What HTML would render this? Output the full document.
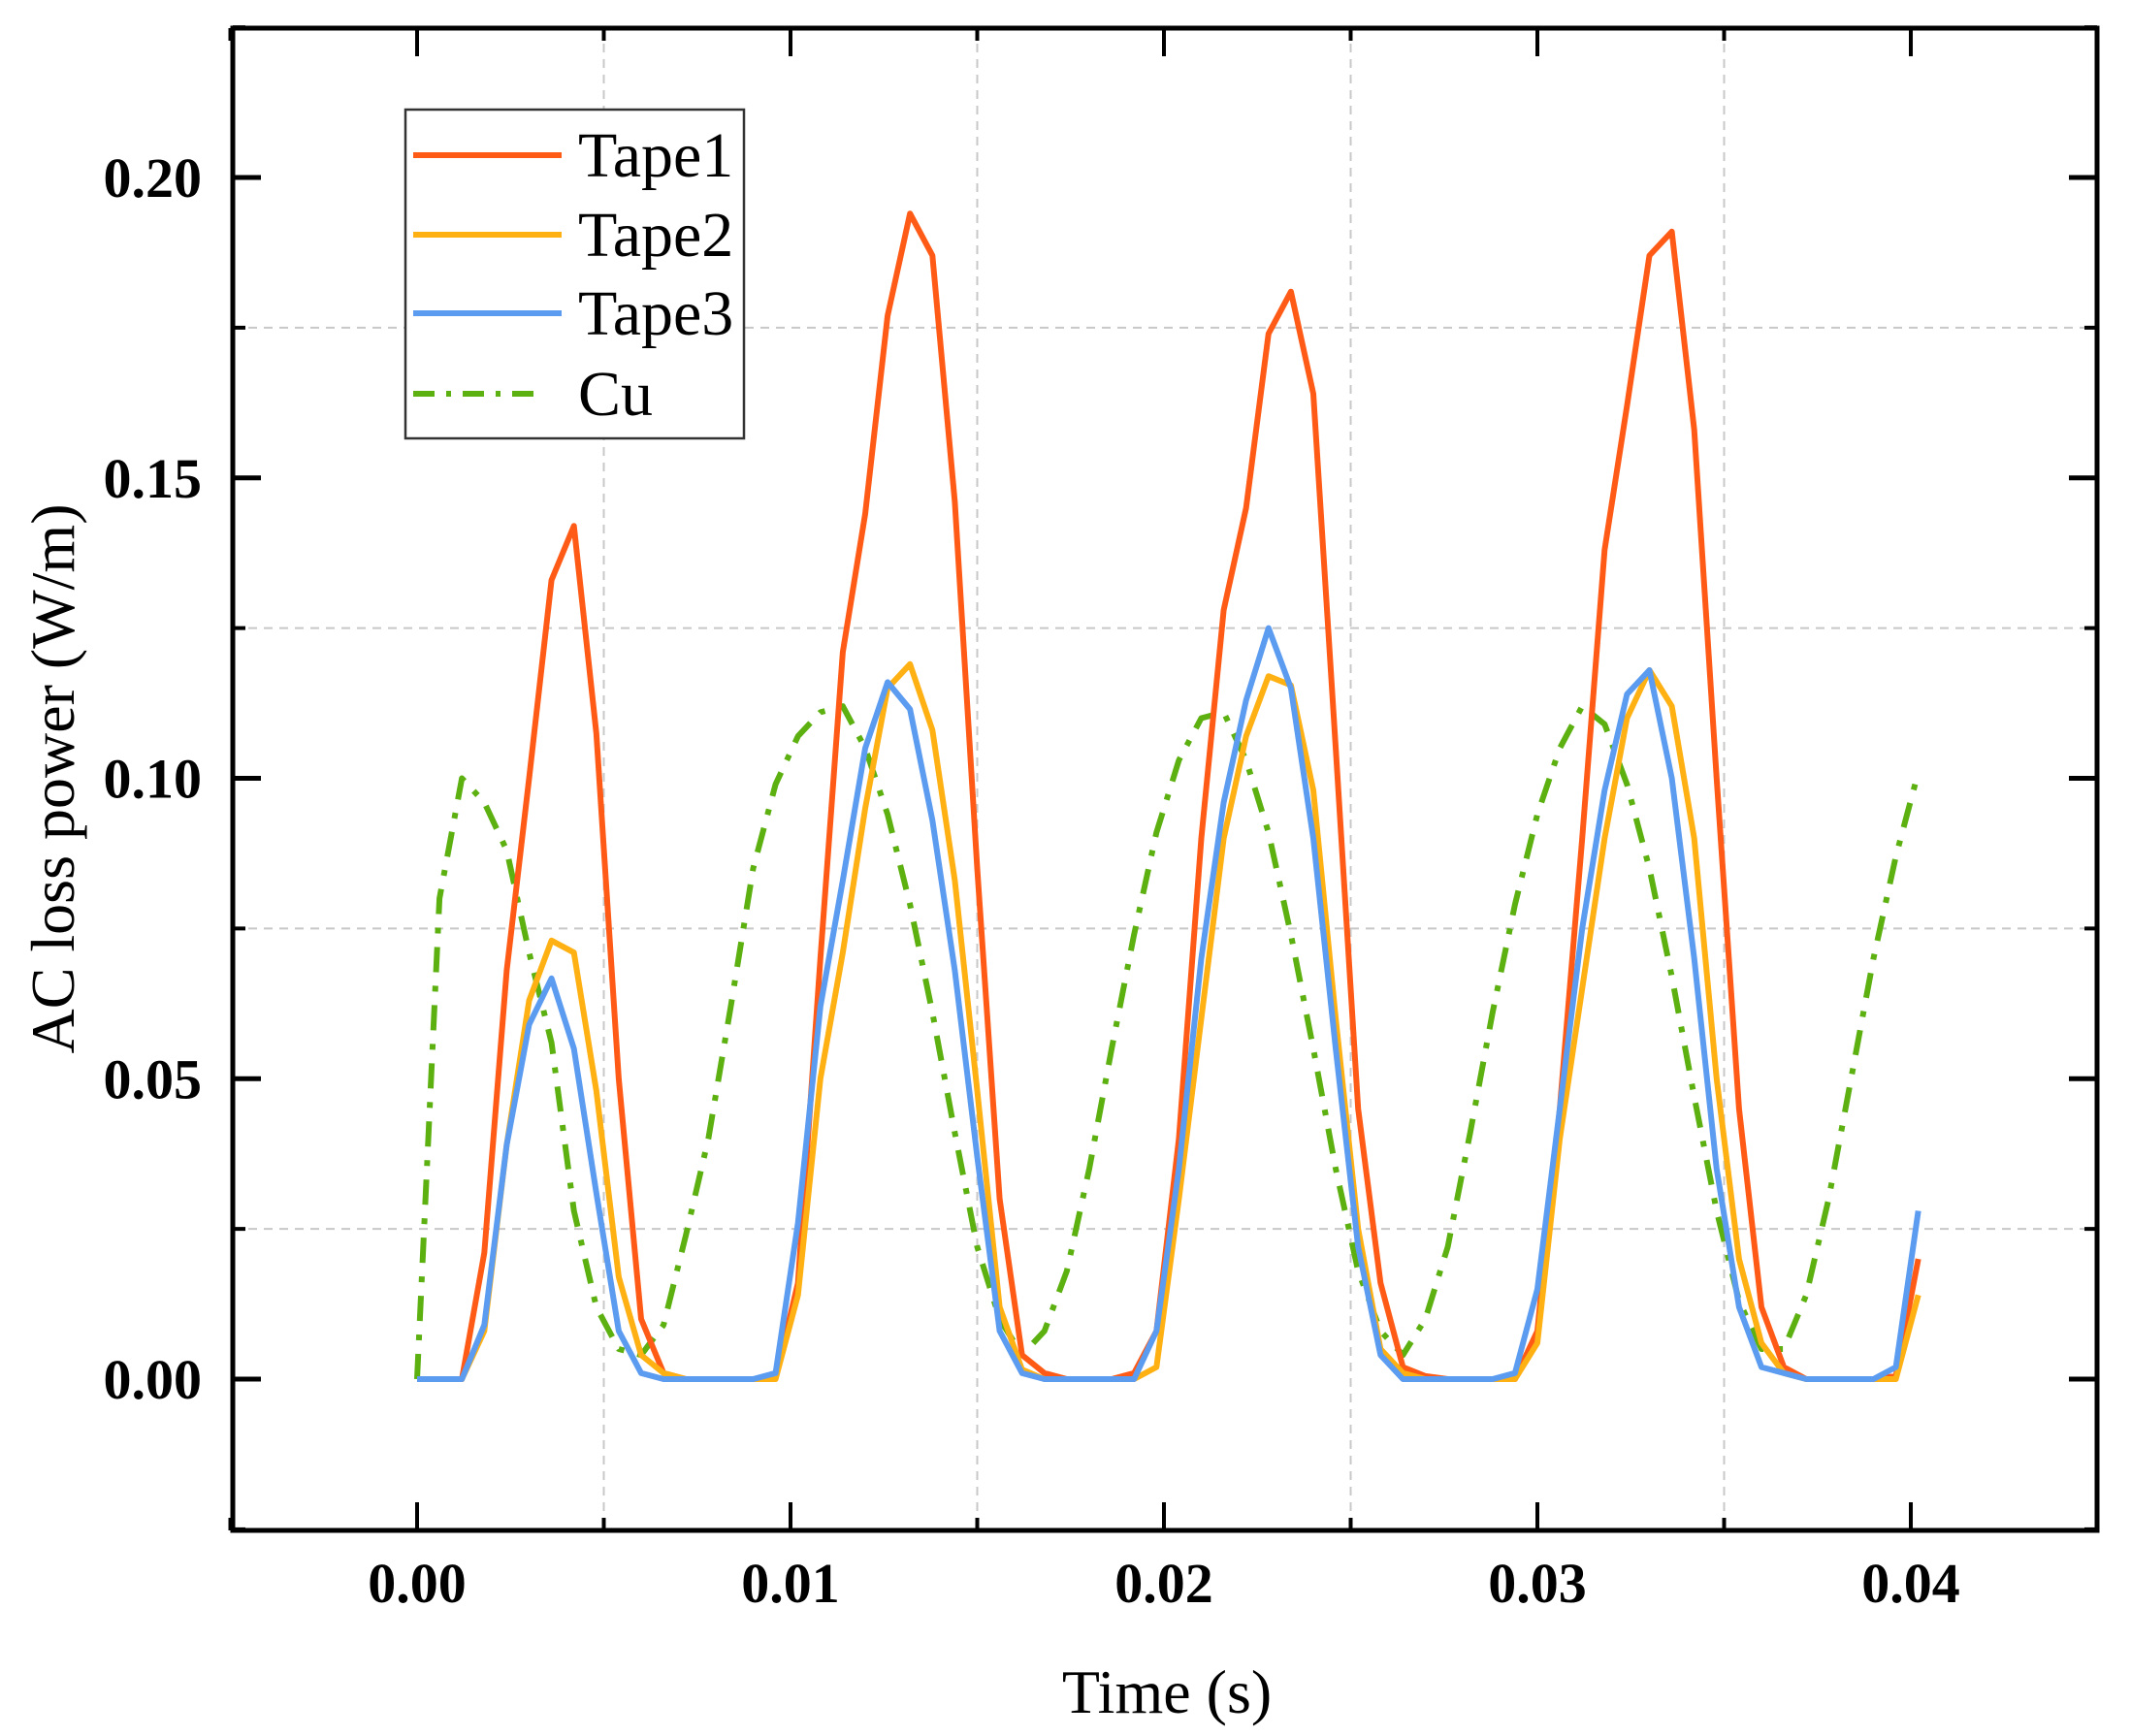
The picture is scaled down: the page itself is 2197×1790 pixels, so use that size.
<!DOCTYPE html>
<html><head><meta charset="utf-8">
<style>
html,body{margin:0;padding:0;background:#fff;}
svg{display:block;}
text{font-family:"Liberation Serif",serif;fill:#000;}
</style></head>
<body>
<svg id="chart" width="2197" height="1790" viewBox="0 0 2197 1790" xmlns="http://www.w3.org/2000/svg">
<g id="grid"></g>
<g id="series"></g>
<rect x="240" y="29" width="1922" height="1549" fill="none" stroke="#000" stroke-width="5"/>
<g id="ticks"></g>
<g id="labels"></g>
<text x="1203" y="1766" font-size="64" text-anchor="middle">Time (s)</text>
<text transform="translate(76,803) rotate(-90)" font-size="64" text-anchor="middle">AC loss power (W/m)</text>
<g>
<rect x="418" y="113" width="349" height="339" fill="#fff" stroke="#333" stroke-width="2.5"/>
<line x1="426" y1="160" x2="579" y2="160" stroke="#FF5B17" stroke-width="6"/>
<text x="596" y="182" font-size="66">Tape1</text>
<line x1="426" y1="242" x2="579" y2="242" stroke="#FFB012" stroke-width="6"/>
<text x="596" y="264" font-size="66">Tape2</text>
<line x1="426" y1="323" x2="579" y2="323" stroke="#5B9BF0" stroke-width="6"/>
<text x="596" y="345" font-size="66">Tape3</text>
<line x1="426" y1="406" x2="560" y2="406" stroke="#5CB010" stroke-width="6" stroke-dasharray="22,12,5,12"/>
<text x="596" y="428" font-size="66">Cu</text>
</g>
</svg>
<script>
const dt = 0.0006;
const xTicks = [0, 0.01, 0.02, 0.03, 0.04];
const xTickLabels = ["0.00","0.01","0.02","0.03","0.04"];
const yTicks = [0, 0.05, 0.10, 0.15, 0.20];
const yTickLabels = ["0.00","0.05","0.10","0.15","0.20"];
const xMinor = [-0.005, 0.005, 0.015, 0.025, 0.035, 0.045];
const yMinor = [-0.025, 0.025, 0.075, 0.125, 0.175, 0.225];
const tape1 = [0,0,0,0.021,0.068,0.100,0.133,0.142,0.1075,0.050,0.010,0.001,0,0,0,0,0.0003,0.016,0.070,0.121,0.144,0.177,0.194,0.187,0.146,0.085,0.030,0.004,0.001,0,0,0,0.001,0.008,0.040,0.090,0.128,0.145,0.174,0.181,0.164,0.105,0.045,0.016,0.002,0.0005,0,0,0,0,0.008,0.045,0.090,0.138,0.162,0.187,0.191,0.158,0.100,0.045,0.012,0.002,0,0,0,0,0.0005,0.020];
const tape2 = [0,0,0,0.008,0.039,0.063,0.073,0.071,0.048,0.017,0.004,0.001,0,0,0,0,0,0.014,0.050,0.071,0.095,0.115,0.119,0.108,0.083,0.048,0.012,0.0016,0,0,0,0,0,0.002,0.030,0.060,0.090,0.107,0.117,0.1155,0.098,0.060,0.025,0.005,0.001,0,0,0,0,0,0.006,0.040,0.065,0.090,0.110,0.118,0.112,0.090,0.050,0.020,0.006,0.001,0,0,0,0,0,0.014];
const tape3 = [0,0,0,0.009,0.039,0.059,0.0667,0.055,0.031,0.008,0.001,0,0,0,0,0,0.001,0.026,0.062,0.083,0.105,0.116,0.1115,0.093,0.068,0.037,0.008,0.001,0,0,0,0,0,0.008,0.035,0.070,0.096,0.113,0.125,0.115,0.090,0.055,0.022,0.004,0,0,0,0,0,0.001,0.015,0.045,0.075,0.098,0.114,0.118,0.100,0.070,0.035,0.012,0.002,0.001,0,0,0,0,0.002,0.028];
const cu = [0,0.080,0.100,0.096,0.088,0.071,0.056,0.028,0.012,0.005,0.004,0.009,0.024,0.040,0.062,0.085,0.099,0.107,0.111,0.112,0.105,0.094,0.079,0.061,0.041,0.022,0.010,0.004,0.008,0.018,0.035,0.055,0.074,0.091,0.103,0.110,0.111,0.103,0.091,0.074,0.055,0.035,0.018,0.008,0.004,0.010,0.022,0.041,0.061,0.079,0.094,0.105,0.112,0.109,0.099,0.085,0.067,0.047,0.028,0.013,0.005,0.005,0.014,0.030,0.050,0.070,0.087,0.101];

const NS = "http://www.w3.org/2000/svg";
function X(t){ return 430 + t * 38500; }
function Y(v){ return 1422 - v * 6195; }
const L = 240, R = 2162, T = 29, B = 1578;
function mk(tag, attrs, parent){
  const e = document.createElementNS(NS, tag);
  for (const k in attrs) e.setAttribute(k, attrs[k]);
  parent.appendChild(e);
  return e;
}
const grid = document.getElementById('grid');
const ticks = document.getElementById('ticks');
const labels = document.getElementById('labels');
const series = document.getElementById('series');

xMinor.forEach(t => {
  const x = X(t);
  if (x > L + 3 && x < R - 3) {
    const g = mk('line', {x1:x, y1:T, x2:x, y2:B, stroke:'#c8c8c8', 'stroke-width':2, 'stroke-dasharray':'9,7'}, grid);
    
    
  }
  const a = mk('line', {x1:x, y1:B, x2:x, y2:B-13, stroke:'#000', 'stroke-width':4}, ticks);
  
  
  const b = mk('line', {x1:x, y1:T, x2:x, y2:T+13, stroke:'#000', 'stroke-width':4}, ticks);
  
  
});
yMinor.forEach(v => {
  const y = Y(v);
  if (y > T + 3 && y < B - 3) {
    const g = mk('line', {x1:L, y1:y, x2:R, y2:y, stroke:'#c8c8c8', 'stroke-width':2, 'stroke-dasharray':'9,7'}, grid);
    
    
  }
  const a = mk('line', {x1:L, y1:y, x2:L+13, y2:y, stroke:'#000', 'stroke-width':4}, ticks);
  
  
  const b = mk('line', {x1:R, y1:y, x2:R-13, y2:y, stroke:'#000', 'stroke-width':4}, ticks);
  
  
});
xTicks.forEach((t, i) => {
  const x = X(t);
  const a = mk('line', {x1:x, y1:B, x2:x, y2:B-29, stroke:'#000', 'stroke-width':4}, ticks);
  
  
  const b = mk('line', {x1:x, y1:T, x2:x, y2:T+29, stroke:'#000', 'stroke-width':4}, ticks);
  
  
  const tx = mk('text', {x:x, y:1652, 'font-size':58, 'font-weight':'bold', 'text-anchor':'middle'}, labels);
  tx.textContent = xTickLabels[i];
  
  
});
yTicks.forEach((v, i) => {
  const y = Y(v);
  const a = mk('line', {x1:L, y1:y, x2:L+29, y2:y, stroke:'#000', 'stroke-width':5}, ticks);
  
  
  const b = mk('line', {x1:R, y1:y, x2:R-29, y2:y, stroke:'#000', 'stroke-width':5}, ticks);
  
  
  const tx = mk('text', {x:208, y:y+20, 'font-size':58, 'font-weight':'bold', 'text-anchor':'end'}, labels);
  tx.textContent = yTickLabels[i];
  
  
});

function drawSeries(vals, color, name, dash){
  const pts = vals.map((v, i) => X(i * dt).toFixed(1) + ',' + Y(v).toFixed(1)).join(' ');
  const attrs = {points: pts, fill:'none', stroke: color, 'stroke-width': 6, 'stroke-linejoin':'round'};
  if (dash) attrs['stroke-dasharray'] = dash;
  const p = mk('polyline', attrs, series);
  
  
}
drawSeries(cu, '#5CB010', 'cu-line', '26,14,6,14');
drawSeries(tape1, '#FF5B17', 'tape1-line');
drawSeries(tape2, '#FFB012', 'tape2-line');
drawSeries(tape3, '#5B9BF0', 'tape3-line');
</script>
</body></html>
